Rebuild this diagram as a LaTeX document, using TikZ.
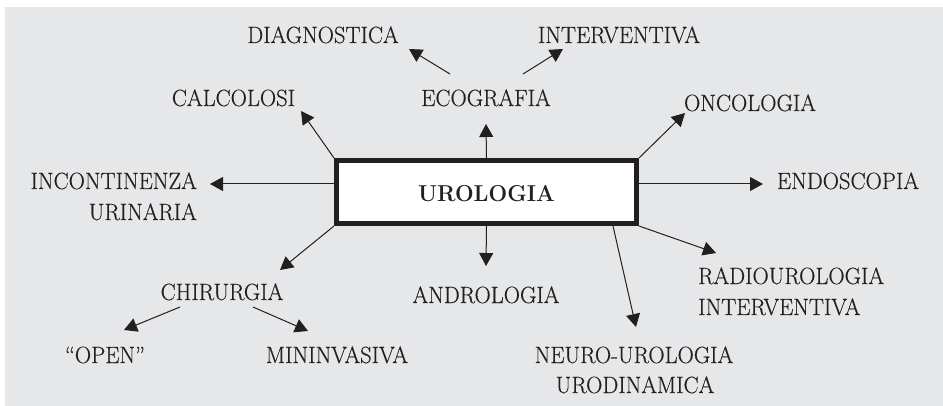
\documentclass[tikz,border=0pt]{standalone}
\usepackage{fontspec}
\setmainfont{Latin Modern Roman}[FakeStretch=0.96]
\newfontfamily\lblfont{Latin Modern Roman}[FakeStretch=0.96,FakeBold=0.35]
\usetikzlibrary{arrows.meta}
\definecolor{bggray}{HTML}{E6E7E8}
\definecolor{ink}{HTML}{231F20}
\begin{document}
\begin{tikzpicture}[x=1pt,y=-1pt,
  lbl/.style={inner sep=0pt,text=ink,font=\lblfont\fontsize{23.5}{28}\selectfont},
  conn/.style={draw=ink,line width=1pt,-{Triangle[length=13pt,width=14pt]}}]
\useasboundingbox (0,0) rectangle (943,406);
\fill[bggray] (5,7) rectangle (943,406);
% central box
\node[draw=ink,line width=5pt,fill=white,minimum width=300pt,minimum height=63pt,inner sep=0pt] (uro) at (486.5,192) {};
\node[inner sep=0pt,text=ink,anchor=base,font=\fontsize{23}{28}\selectfont\bfseries] (urot) at (486.5,202) {UROLOGIA};
% labels
\node[lbl,anchor=base] (diag) at (323,43) {DIAGNOSTICA};
\node[lbl,anchor=base] (intv) at (619,43) {INTERVENTIVA};
\node[lbl,anchor=base] (eco) at (486,106) {ECOGRAFIA};
\node[lbl,anchor=base] (calc) at (233.5,106) {CALCOLOSI};
\node[lbl,anchor=base] (onco) at (750,111) {ONCOLOGIA};
\node[lbl,anchor=base east] (inc1) at (197,189) {INCONTINENZA};
\node[lbl,anchor=base east] (inc2) at (197,220) {URINARIA};
\node[lbl,anchor=base] (endo) at (848,189) {ENDOSCOPIA};
\node[lbl,anchor=base] (chir) at (222,300) {CHIRURGIA};
\node[lbl,anchor=base] (open) at (105,363) {“OPEN”};
\node[lbl,anchor=base] (mini) at (337,363) {MININVASIVA};
\node[lbl,anchor=base] (andr) at (486,303) {ANDROLOGIA};
\node[lbl,anchor=base] (neu1) at (634,363) {NEURO-UROLOGIA};
\node[lbl,anchor=base] (neu2) at (635,393) {URODINAMICA};
\node[lbl,anchor=base west] (rad1) at (698,284) {RADIOUROLOGIA};
\node[lbl,anchor=base west] (rad2) at (698,315) {INTERVENTIVA};
% connector ends
\coordinate (tEco) at (486,124);
\coordinate (sDiag) at (450,74);
\coordinate (tDiag) at (409,49);
\coordinate (sIntv) at (523,74);
\coordinate (tIntv) at (563,49);
\coordinate (tCalc) at (301,111);
\coordinate (tOnco) at (685,113);
\coordinate (tInc) at (210,184);
\coordinate (tEndo) at (763,184);
\coordinate (tChir) at (280,270);
\coordinate (sOpen) at (180,307);
\coordinate (tOpen) at (124,330);
\coordinate (sMini) at (253,307);
\coordinate (tMini) at (308,331);
\coordinate (tAndr) at (486,266);
\coordinate (sNeu) at (613,226);
\coordinate (tNeu) at (636,327);
\coordinate (tRad) at (716,253);
% connectors
\draw[conn] (uro.north) -- (tEco);
\draw[conn] (sDiag) -- (tDiag);
\draw[conn] (sIntv) -- (tIntv);
\draw[conn] (uro.north west) -- (tCalc);
\draw[conn] (uro.north east) -- (tOnco);
\draw[conn] ([yshift=8pt]uro.west) -- (tInc);
\draw[conn] ([yshift=8pt]uro.east) -- (tEndo);
\draw[conn] (uro.south west) -- (tChir);
\draw[conn] (sOpen) -- (tOpen);
\draw[conn] (sMini) -- (tMini);
\draw[conn] (uro.south) -- (tAndr);
\draw[conn] (sNeu) -- (tNeu);
\draw[conn] (uro.south east) -- (tRad);
\end{tikzpicture}
\end{document}
